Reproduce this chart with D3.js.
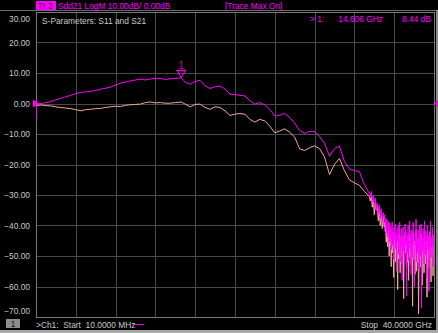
<!DOCTYPE html>
<html>
<head>
<meta charset="utf-8">
<script src="https://cdn.jsdelivr.net/npm/d3@7"></script>
<style>
  html, body { margin: 0; padding: 0; background: #000; }
  svg { display: block; font-family: "Liberation Sans", Arial, sans-serif; }
</style>
</head>
<body>
<svg id="chart"></svg>
<script>
// sweep points (GHz)
const freqGHz = [
  0.01, 0.03, 0.05, 0.1, 0.2, 0.5, 1.0, 1.5, 2.0, 2.5, 3.0, 3.5, 4.0, 4.5, 5.0, 5.5, 6.0, 6.5, 7.0, 7.5,
  8.0, 8.5, 9.0, 9.5, 10.0, 10.5, 11.0, 11.5, 12.0, 12.5, 13.0, 13.5, 14.0, 14.606, 15.0, 15.5, 16.0, 16.5,
  17.0, 17.5, 18.0, 18.5, 19.0, 19.5, 20.0, 20.5, 21.0, 21.5, 22.0, 22.5, 23.0, 23.5, 24.0, 24.5, 25.0,
  25.5, 26.0, 26.5, 27.0, 27.5, 28.0, 28.5, 29.0, 29.5, 30.0, 30.5, 31.0, 31.5, 32.0, 32.5, 33.0, 33.5,
  33.6, 33.7, 33.8, 33.9, 34.0, 34.1, 34.2, 34.3, 34.4, 34.5, 34.6, 34.7, 34.8, 34.9, 35.0,
  35.05, 35.1, 35.15, 35.2, 35.25, 35.3, 35.35, 35.4, 35.45, 35.5, 35.55, 35.6, 35.65, 35.7, 35.75, 35.8, 35.85, 35.9, 35.95, 36.0,
  36.05, 36.1, 36.15, 36.2, 36.25, 36.3, 36.35, 36.4, 36.45, 36.5, 36.55, 36.6, 36.65, 36.7, 36.75, 36.8, 36.85, 36.9, 36.95, 37.0,
  37.05, 37.1, 37.15, 37.2, 37.25, 37.3, 37.35, 37.4, 37.45, 37.5, 37.55, 37.6, 37.65, 37.7, 37.75, 37.8, 37.85, 37.9, 37.95, 38.0,
  38.05, 38.1, 38.15, 38.2, 38.25, 38.3, 38.35, 38.4, 38.45, 38.5, 38.55, 38.6, 38.65, 38.7, 38.75, 38.8, 38.85, 38.9, 38.95, 39.0,
  39.05, 39.1, 39.15, 39.2, 39.25, 39.3, 39.35, 39.4, 39.45, 39.5, 39.55, 39.6, 39.65, 39.7, 39.75, 39.8, 39.85, 39.9, 39.95, 40.0
];

// Sdd21 (magenta), dB
const sdd21 = [
  0.0, -5.5, 0.8, -0.4, 0.1, 0.0, 0.3, 0.6, 1.2, 1.7, 2.2, 2.7, 3.3, 3.6, 3.8, 4.0, 4.3, 4.7, 5.0, 5.4,
  6.0, 6.7, 7.0, 7.4, 7.7, 8.0, 7.7, 8.0, 8.3, 8.2, 7.9, 8.1, 8.2, 8.44, 7.0, 6.3, 7.2, 7.6,
  5.8, 4.9, 5.5, 5.7, 4.8, 3.1, 2.9, 2.7, 2.5, 0.9, -0.2, 0.3, -0.5, -1.9, -4.1, -3.9, -3.2,
  -4.6, -6.4, -8.8, -9.8, -9.2, -9.2, -10.8, -13.0, -17.3, -14.8, -14.0, -19.0, -21.5, -22.0, -22.3, -26.5, -29.5,
  -30.5, -28.8, -32.0, -30.2, -33.5, -31.0, -34.8, -32.6, -36.0, -33.2, -37.5, -34.5, -39.0, -35.8, -38.2,
  -36.5, -40.2, -38.0, -42.5, -37.8, -39.5, -43.8, -38.6, -41.0, -45.5, -39.2, -44.0, -40.5, -48.0, -41.5, -38.8, -46.5, -42.0, -51.0, -40.5,
  -44.5, -39.5, -47.5, -43.0, -55.0, -41.0, -45.0, -40.0, -49.5, -44.0, -39.0, -52.0, -43.5, -47.0, -41.0, -58.0, -44.5, -40.5, -48.5, -45.0,
  -53.0, -39.5, -46.0, -42.0, -63.0, -44.0, -49.0, -40.0, -51.5, -45.5, -38.5, -47.5, -43.0, -56.0, -41.5, -46.0, -50.5, -39.0, -44.5, -48.0,
  -60.0, -42.5, -46.5, -38.0, -52.0, -44.0, -49.0, -41.5, -47.5, -54.5, -40.0, -45.5, -50.0, -39.5, -67.0, -44.0, -48.5, -41.0, -46.0, -52.5,
  -38.5, -45.0, -49.5, -42.0, -57.0, -44.5, -40.0, -48.0, -43.5, -61.5, -42.0, -47.0, -38.5, -50.5, -44.0, -46.5, -40.5, -53.5, -43.0, -47.0
];

// second trace (salmon), dB
const sTrace2 = [
  0.0, -0.5, -0.3, -0.8, -0.6, -0.5, -0.7, -0.8, -1.1, -1.3, -1.5, -1.7, -2.0, -2.4, -2.0, -1.9, -1.7, -1.6, -1.3, -1.1,
  -0.9, -1.0, -0.6, -0.4, -0.3, -0.2, 0.3, 0.5, 0.2, 0.3, 0.1, 0.1, 0.3, 0.5, -0.2, -1.1, -0.3, -0.2,
  -1.3, -1.9, -1.1, -1.3, -2.4, -3.9, -3.5, -3.3, -3.5, -5.2, -6.1, -5.2, -5.7, -7.4, -9.6, -9.0, -8.3,
  -9.4, -11.0, -14.9, -15.4, -14.5, -13.9, -14.8, -17.5, -23.3, -20.0, -18.0, -22.0, -25.0, -26.0, -26.8, -28.8, -30.5,
  -32.0, -30.5, -34.0, -31.5, -36.5, -32.5, -35.0, -34.0, -38.5, -35.0, -40.0, -36.5, -41.0, -37.0, -40.5,
  -39.0, -42.0, -40.0, -45.5, -41.0, -43.5, -47.0, -41.5, -44.0, -50.0, -42.5, -46.5, -43.0, -53.5, -44.5, -42.0, -49.0, -45.0, -57.0, -43.5,
  -47.5, -42.5, -52.0, -46.0, -49.5, -44.0, -61.0, -43.0, -51.0, -46.5, -42.0, -55.5, -46.0, -50.0, -44.0, -52.5, -47.0, -43.5, -64.0, -47.5,
  -50.0, -42.5, -49.0, -45.0, -54.0, -46.5, -52.0, -43.0, -58.0, -48.0, -41.5, -50.5, -46.0, -53.0, -44.5, -49.0, -66.5, -42.0, -47.5, -51.0,
  -45.0, -56.0, -49.5, -41.5, -55.0, -47.0, -52.0, -44.5, -69.0, -48.5, -43.0, -51.0, -53.5, -42.5, -50.0, -47.0, -59.5, -44.0, -49.0, -55.5,
  -41.5, -48.0, -52.5, -45.0, -50.0, -63.5, -43.0, -51.0, -46.5, -54.0, -45.0, -50.0, -41.5, -58.5, -47.0, -49.5, -43.5, -56.5, -46.0, -50.0
];

const yTicks = [30, 20, 10, 0, -10, -20, -30, -40, -50, -60, -70];
const startGHz = 0.01, stopGHz = 40;

const W = 438, H = 333;
const plotL = 36, plotR = 434, plotT = 12, plotB = 317;
const MAG = "#ff00ff", SALMON = "#f4a89e", LABEL = "#c8c8c8";

const svg = d3.select("#chart").attr("width", W).attr("height", H);
svg.append("rect").attr("width", W).attr("height", H).attr("fill", "#000");

const x = d3.scaleLinear().domain([startGHz, stopGHz]).range([plotL, plotR]);
const y = d3.scaleLinear().domain([-70, 30]).range([plotB, plotT]);
const xDiv = d3.scaleLinear().domain([0, 10]).range([plotL, plotR]);

// header separator + outer frame
svg.append("line").attr("x1", 0).attr("x2", W).attr("y1", 10.5).attr("y2", 10.5)
  .attr("stroke", "#6a6a6a");
svg.append("rect").attr("x", 0).attr("y", 330).attr("width", W).attr("height", 3).attr("fill", "#a8a8a8");
svg.append("rect").attr("x", 436).attr("y", 10).attr("width", 2).attr("height", 320).attr("fill", "#8a8a8a");

// grid
const grid = svg.append("g").attr("stroke", "#4a4a4a").attr("shape-rendering", "crispEdges");
grid.selectAll(".v").data(d3.range(1, 10)).enter().append("line")
  .attr("x1", d => Math.round(xDiv(d)) + 0.5).attr("x2", d => Math.round(xDiv(d)) + 0.5)
  .attr("y1", plotT).attr("y2", plotB);
grid.selectAll(".h").data(yTicks.slice(1, -1)).enter().append("line")
  .attr("x1", plotL).attr("x2", plotR)
  .attr("y1", d => Math.round(y(d)) + 0.5).attr("y2", d => Math.round(y(d)) + 0.5);
svg.append("rect").attr("x", plotL + 0.5).attr("y", plotT + 0.5)
  .attr("width", plotR - plotL).attr("height", plotB - plotT)
  .attr("fill", "none").attr("stroke", "#7a7a7a").attr("shape-rendering", "crispEdges");

// y axis labels
const yAxis = svg.append("g").attr("transform", `translate(${plotL - 5},0)`)
  .call(d3.axisLeft(y).tickValues(yTicks).tickSize(0).tickPadding(1).tickFormat(d3.format(".2f")));
yAxis.select(".domain").remove();
yAxis.selectAll("text").attr("fill", LABEL).style("font-size", "8.4px")
  .attr("y", d => d === 30 ? 7 : d === -70 ? -6 : 0);

// traces
const line = d3.line().x(d => x(d[0])).y(d => y(d[1]));
svg.append("clipPath").attr("id", "plot").append("rect")
  .attr("x", plotL).attr("y", plotT).attr("width", plotR - plotL).attr("height", plotB - plotT);
svg.append("path").datum(freqGHz.map((f, i) => [f, sTrace2[i]]))
  .attr("d", line).attr("fill", "none").attr("stroke", SALMON).attr("stroke-width", 1)
  .attr("clip-path", "url(#plot)");
svg.append("path").datum(freqGHz.map((f, i) => [f, sdd21[i]]))
  .attr("d", line).attr("fill", "none").attr("stroke", MAG).attr("stroke-width", 1)
  .attr("clip-path", "url(#plot)");

// reference level markers
svg.append("path").attr("d", `M${plotL - 3},${y(0) - 4}L${plotL + 3},${y(0)}L${plotL - 3},${y(0) + 4}Z`).attr("fill", MAG);
svg.append("path").attr("d", `M${W},${y(0) - 4}L${plotR + 1},${y(0)}L${W},${y(0) + 4}Z`).attr("fill", MAG);

// trace max marker
const iMax = d3.maxIndex(sdd21);
const mx = x(freqGHz[iMax]), my = y(sdd21[iMax]);
svg.append("path").attr("d", `M${mx - 4},${my - 7}L${mx + 4},${my - 7}L${mx},${my}Z`)
  .attr("fill", "none").attr("stroke", MAG);
svg.append("line").attr("x1", mx - 5).attr("x2", mx + 5).attr("y1", my - 7.5).attr("y2", my - 7.5)
  .attr("stroke", MAG);
svg.append("text").attr("x", mx).attr("y", my - 9).attr("text-anchor", "middle")
  .attr("fill", "#b8206e").style("font-size", "10px").text("1");

// header
svg.append("rect").attr("x", 36).attr("y", 1).attr("width", 20).attr("height", 9).attr("fill", MAG);
const hdr = svg.append("g").style("font-size", "8.4px");
hdr.append("text").attr("x", 38).attr("y", 9).attr("fill", "#500050").text("Tr 3");
hdr.append("text").attr("x", 58).attr("y", 9).attr("fill", MAG).text("Sdd21 LogM 10.00dB/  0.00dB");
hdr.append("text").attr("x", 225).attr("y", 9).attr("fill", MAG).text("[Trace Max On]");

// annotations
svg.append("text").attr("x", 42).attr("y", 23.5).attr("fill", LABEL).style("font-size", "8.4px")
  .text("S-Parameters: S11 and S21");
const ro = svg.append("g").attr("fill", MAG).style("font-size", "8.4px");
ro.append("text").attr("x", 310).attr("y", 22).text("> 1:");
ro.append("text").attr("x", 383).attr("y", 22).attr("text-anchor", "end")
  .text(`${freqGHz[iMax].toFixed(3)} GHz`);
ro.append("text").attr("x", 431).attr("y", 22).attr("text-anchor", "end")
  .text(`${sdd21[iMax].toFixed(2)} dB`);

// footer
svg.append("rect").attr("x", 6).attr("y", 319).attr("width", 14).attr("height", 9).attr("fill", "#8c8c8c");
svg.append("text").attr("x", 13).attr("y", 327).attr("text-anchor", "middle").attr("fill", "#101010")
  .style("font-size", "8.4px").text("1");
svg.append("text").attr("x", 36).attr("y", 327.5).attr("fill", LABEL).style("font-size", "8.4px")
  .attr("xml:space", "preserve").text(">Ch1:  Start  10.0000 MHz");
svg.append("line").attr("x1", 135).attr("x2", 144).attr("y1", 324.5).attr("y2", 324.5).attr("stroke", MAG);
svg.append("text").attr("x", 432).attr("y", 327.5).attr("text-anchor", "end").attr("fill", LABEL)
  .style("font-size", "8.4px").attr("xml:space", "preserve").text("Stop  40.0000 GHz");
</script>
</body>
</html>
